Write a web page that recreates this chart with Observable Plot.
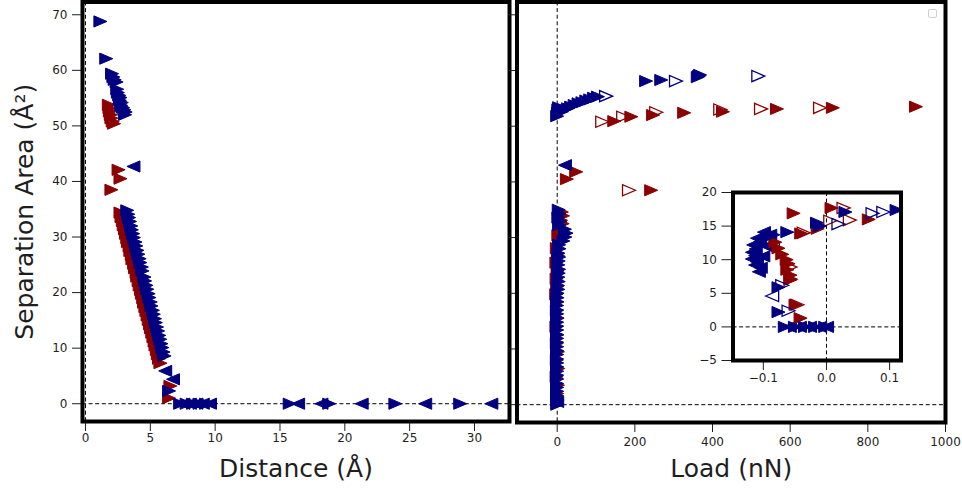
<!DOCTYPE html>
<html><head><meta charset="utf-8">
<script src="https://cdn.jsdelivr.net/npm/d3@7"></script>
<script src="https://cdn.jsdelivr.net/npm/@observablehq/plot@0.6"></script>
<style>
html,body{margin:0;padding:0;background:#fff;}
#fig{position:relative;width:962px;height:488px;overflow:hidden;font-family:"DejaVu Sans",sans-serif;}
#legend{position:absolute;left:928px;top:9px;width:9px;height:9px;border:1px solid #cfcfcf;border-radius:2px;background:#fff;box-sizing:border-box;}
</style></head><body><div id="fig"><div id="legend"></div></div>
<script>
// ---------- tick values ----------
const distTicks = [0, 5, 10, 15, 20, 25, 30];
const loadTicks = [0, 200, 400, 600, 800, 1000];
const areaTicks = [0, 10, 20, 30, 40, 50, 60, 70];
const insetLoadTicks = [-0.1, 0, 0.1];
const insetAreaTicks = [-5, 0, 5, 10, 15, 20];

// ---------- left panel: [distance (Å), separation area (Å²)] ----------
const leftRedRight = [
  [1.8,53.8],[1.85,53.2],[1.9,52.6],[1.95,52.0],[2.0,51.4],[2.1,50.8],[2.2,50.4],
  [2.55,42.1],[2.7,40.5],[2.0,38.5],
  [2.70,34.4],[2.78,33.6],[2.88,32.9],[2.95,32.1],[3.05,31.4],[3.12,30.6],[3.22,29.8],[3.28,29.1],
  [3.40,28.3],[3.46,27.5],[3.57,26.8],[3.62,26.0],[3.75,25.2],[3.82,24.4],[3.94,23.6],[3.99,22.9],
  [4.10,22.1],[4.18,21.3],[4.28,20.5],[4.35,19.8],[4.45,19.0],[4.52,18.2],[4.62,17.4],[4.70,16.7],
  [4.79,15.9],[4.88,15.1],[4.98,14.3],[5.05,13.6],[5.15,12.8],[5.24,12.0],[5.33,11.2],[5.40,10.5],
  [5.50,9.7],[5.58,8.9],[5.67,8.1],[5.78,7.3],
  [6.55,3.2],[6.45,1.0]
];
const leftNavyLeft = [
  [3.7,42.7],[6.15,5.9],[6.75,4.4],
  [7.55,0],[8.05,0],[8.55,0],[9.05,0],[9.6,0],[16.4,0],[18.2,0],[21.3,0],[26.2,0],[31.3,0]
];
const leftNavyRight = [
  [1.15,68.8],[1.6,62.1],[2.05,59.4],[2.15,58.8],[2.25,58.3],[2.4,57.9],
  [2.45,56.6],[2.5,56.0],[2.6,55.5],[2.7,55.1],[2.65,54.6],[2.8,54.2],[2.75,53.7],[2.9,53.3],[3.0,52.9],[3.1,52.5],[3.05,52.0],
  [3.22,34.8],[3.30,34.1],[3.36,33.5],[3.44,32.8],[3.53,32.0],[3.58,31.3],[3.68,30.6],[3.74,29.9],
  [3.86,29.1],[3.92,28.4],[4.01,27.6],[4.08,26.9],[4.18,26.1],[4.23,25.4],[4.35,24.6],[4.40,23.9],
  [4.55,22.8],[4.60,22.1],[4.70,21.3],[4.77,20.6],[4.87,19.8],[4.93,19.1],[5.03,18.3],[5.09,17.6],
  [5.20,16.8],[5.27,16.1],[5.36,15.3],[5.43,14.6],[5.52,13.8],[5.60,13.1],[5.69,12.3],[5.77,11.6],
  [5.86,10.8],[5.93,10.1],[6.02,9.3],[6.10,8.6],
  [6.45,2.3],
  [7.3,0],[7.8,0],[8.3,0],[8.8,0],[9.3,0],[15.75,0],[18.8,0],[23.9,0],[28.9,0]
];

// ---------- right panel: [load (nN), separation area (Å²)] ----------
const rightRedHollow = [[116,50.8],[170,51.7],[255,52.5],[420,53.0],[525,53.1],[677,53.3],[185,38.5]];
const rightRedRight = [
  [147,50.9],[191,51.7],[247,52.0],[327,52.4],[427,52.6],[566,53.1],[710,53.3],[924,53.5],
  [49,41.8],[25,40.5],[242,38.5],
  [12,34.6],[15,33.9],[10,33.1],[14,32.5],[6,31.7],[3,30.4],[5,29.2],[-1,28.1],[2,26.8],[-2,25.5],
  [1,24.0],[-1.5,22.6],[0,21.2],[-2.5,19.8],[0,18.4],[-1,16.9],[1,15.5],[-2,14.0],[0,12.5],[-1,11.0],
  [2,9.5],[-1,8.0],[3,6.5],[-1.5,5.0],[2,3.5],[0,2.0],[1,0.8]
];
const rightNavyLeft = [[20,43.0],[0,0.5]];
const rightNavyRight = [
  [4,35.0],[6,34.3],[3,33.6],[8,32.9],[5,32.2],[20,31.5],[24,30.8],[21,30.1],[16,29.4],[5,28.7],
  [6,28.0],[3,27.2],[5,26.5],[4,25.8],[3,25.1],[5,24.3],[4,23.6],[3,22.9],[4,22.1],[2,21.4],
  [3,20.7],[1,20.0],[1,19.2],[0,18.5],[0,17.8],[0,17.0],[0,16.3],[0,15.6],[0,14.8],[0,14.1],
  [0,13.4],[0,12.6],[0,11.9],[0,11.2],[0,10.4],[0,9.7],[0,9.0],[0,8.2],[0,7.5],[0,6.8],
  [0,6.0],[0,5.3],[0,4.6],[0,3.8],[0,3.1],[0,2.4],[0,1.6],[0,0.9],[0,0],
  [0,51.8],[2,52.4],[3,53.0],[5,53.4],[12,52.6],[20,53.0],[28,53.2],[36,53.5],[45,53.8],[55,54.1],
  [65,54.3],[75,54.6],[85,54.8],[95,55.1],[105,55.3],
  [229,58.1],[268,58.3],[362,58.8],[365,59.0],[368,59.2]
];
const rightNavyHollow = [[126,55.4],[306,58.1],[518,59.0]];

// ---------- inset: [load (nN), separation area (Å²)] ----------
const insetNavyLeft = [
  [-0.099,14.1],[-0.110,13.2],[-0.116,12.2],[-0.118,11.1],[-0.118,10.1],[-0.113,9.2],[-0.107,8.2],
  [-0.093,13.5],[-0.105,12.7],[-0.112,11.6],[-0.113,10.6],[-0.110,9.7],[-0.104,8.8],
  [-0.089,13.7],[-0.095,12.0],[-0.100,10.5],
  [-0.058,0],[-0.042,0],[-0.026,0],[-0.010,0],[0.001,0]
];
const insetNavyLeftHollow = [[-0.085,11.8],[-0.086,4.6]];
const insetRedRight = [
  [-0.052,16.9],[0.008,17.7],[0.067,16.0],[-0.014,14.6],[-0.040,13.9],[-0.081,12.6],[-0.076,11.7],
  [-0.070,10.8],[-0.063,10.0],[-0.060,9.4],[-0.062,8.5],[-0.057,7.7],[-0.057,7.0],[-0.049,3.3],[-0.041,1.3]
];
const insetRedHollow = [[0.027,17.7],[0.037,15.9],[0.006,15.8],[-0.036,14.0],[-0.057,8.9],[-0.057,7.1],[-0.046,3.3]];
const insetNavyRight = [
  [0.030,17.1],[0.111,17.4],[-0.015,15.5],[-0.010,15.0],[-0.062,14.1],[-0.084,13.7],[-0.076,5.9],[-0.076,2.2],
  [-0.066,0],[-0.050,0],[-0.034,0],[-0.018,0],[-0.002,0]
];
const insetNavyHollow = [[0.019,15.3],[0.073,16.9],[0.090,17.1],[-0.060,2.4],[-0.070,6.2]];

// ---------- styling helpers ----------
const NAVY = "#000080", DARKRED = "#8b0000";
function tri(dir) {
  return {draw(ctx, size) {
    const r = Math.sqrt(size / Math.PI), h = r * 0.86;
    ctx.moveTo(dir * r, 0); ctx.lineTo(-dir * r, -h); ctx.lineTo(-dir * r, h); ctx.closePath();
  }};
}
const TRI_R = tri(1), TRI_L = tri(-1);
function markers(data, sym, color, hollow, clip) {
  return Plot.dot(data, {
    x: d => d[0], y: d => d[1], symbol: sym, r: 6.5,
    fill: hollow ? "none" : color, stroke: color, strokeWidth: hollow ? 1.3 : 1, clip: !!clip
  });
}
const dash = {stroke: "black", strokeWidth: 1, strokeDasharray: "4,2.6"};
const baseStyle = {fontFamily: "DejaVu Sans, sans-serif", color: "#1e1e1e", background: "transparent", overflow: "visible"};
const minus = v => (v < 0 ? "\u2212" : "") + Math.abs(v);
const fig = document.getElementById("fig");
function place(svg, left, top) {
  svg.style.position = "absolute"; svg.style.left = left + "px"; svg.style.top = top + "px";
  fig.appendChild(svg);
}

// ---------- left panel ----------
const left = Plot.plot({
  width: 512, height: 488, marginLeft: 82, marginRight: 3, marginTop: 1.5, marginBottom: 67,
  style: baseStyle,
  x: {domain: [-0.23, 32.7]},
  y: {domain: [-3.2, 72.3]},
  marks: [
    Plot.ruleX([0], dash), Plot.ruleY([0], dash),
    markers(leftRedRight, TRI_R, DARKRED),
    markers(leftNavyLeft, TRI_L, NAVY),
    markers(leftNavyRight, TRI_R, NAVY),
    Plot.axisX({ticks: distTicks, tickSize: 10, tickPadding: 2, fontSize: 12, label: null, tickFormat: d => String(d)}),
    Plot.axisX({ticks: [], tickSize: 0, label: "Distance (Å)", labelAnchor: "center", labelArrow: "none", labelOffset: 55, fontSize: 25}),
    Plot.axisY({ticks: areaTicks, tickSize: 10, tickPadding: 5, fontSize: 12, label: null, tickFormat: d => String(d)}),
    Plot.axisY({ticks: [], tickSize: 0, label: "Separation Area (Å²)", labelAnchor: "center", labelArrow: "none", labelOffset: 67, fontSize: 25}),
    Plot.frame({stroke: "black", strokeWidth: 4})
  ]
});
place(left, 0, 0);

// ---------- right panel ----------
const right = Plot.plot({
  width: 450, height: 488, marginLeft: 4.5, marginRight: 17, marginTop: 1.5, marginBottom: 66,
  style: baseStyle,
  x: {domain: [-103.5, 1000]},
  y: {domain: [-3.2, 72.3]},
  marks: [
    Plot.ruleX([0], dash), Plot.ruleY([0], dash),
    markers(rightRedHollow, TRI_R, DARKRED, true),
    markers(rightRedRight, TRI_R, DARKRED),
    markers(rightNavyLeft, TRI_L, NAVY),
    markers(rightNavyRight, TRI_R, NAVY),
    markers(rightNavyHollow, TRI_R, NAVY, true),
    Plot.axisX({ticks: loadTicks, tickSize: 10, tickPadding: 5, fontSize: 12, label: null, tickFormat: d => String(d)}),
    Plot.axisX({ticks: [], tickSize: 0, label: "Load (nN)", labelAnchor: "center", labelArrow: "none", labelOffset: 54, fontSize: 25}),
    Plot.axisY({ticks: areaTicks, tickSize: 8, fill: "none", label: null}),
    Plot.frame({stroke: "black", strokeWidth: 4})
  ]
});
place(right, 512, 0);

// ---------- inset ----------
const inset = Plot.plot({
  width: 230, height: 210, marginLeft: 42.5, marginRight: 19.5, marginTop: 12, marginBottom: 30,
  style: baseStyle,
  x: {domain: [-0.148, 0.118]},
  y: {domain: [-5, 20]},
  marks: [
    Plot.frame({fill: "white", stroke: null}),
    Plot.ruleX([0], dash), Plot.ruleY([0], dash),
    markers(insetNavyLeft, TRI_L, NAVY, false, true),
    markers(insetNavyLeftHollow, TRI_L, NAVY, true, true),
    markers(insetRedRight, TRI_R, DARKRED, false, true),
    markers(insetRedHollow, TRI_R, DARKRED, true, true),
    markers(insetNavyRight, TRI_R, NAVY, false, true),
    markers(insetNavyHollow, TRI_R, NAVY, true, true),
    Plot.axisX({ticks: insetLoadTicks, tickSize: 10, tickPadding: 3, fontSize: 12, label: null,
      tickFormat: v => (v < 0 ? "\u2212" : "") + Math.abs(v).toFixed(1)}),
    Plot.axisY({ticks: insetAreaTicks, tickSize: 11, tickPadding: 5, fontSize: 12, label: null, tickFormat: minus}),
    Plot.frame({stroke: "black", strokeWidth: 4})
  ]
});
place(inset, 690, 180);
</script></body></html>
